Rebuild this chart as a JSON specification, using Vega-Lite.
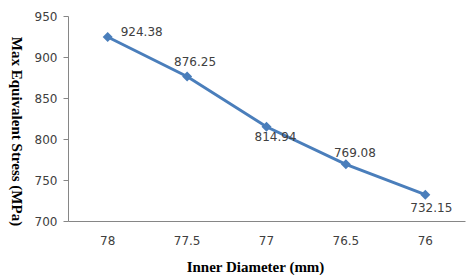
{
  "$schema": "https://vega.github.io/schema/vega-lite/v6.json",
  "width": 397,
  "height": 205,
  "autosize": {"type": "none"},
  "padding": {"left": 68, "top": 16, "right": 1, "bottom": 54},
  "background": "white",
  "config": {"view": {"stroke": null}},
  "data": {"values": [
    {"d": "78", "s": 924.38, "pos": "right"},
    {"d": "77.5", "s": 876.25, "pos": "above"},
    {"d": "77", "s": 814.94, "pos": "below"},
    {"d": "76.5", "s": 769.08, "pos": "above"},
    {"d": "76", "s": 732.15, "pos": "below"}
  ]},
  "encoding": {
    "x": {"field": "d", "type": "ordinal", "sort": null,
      "scale": {"type": "band", "paddingInner": 0, "paddingOuter": 0},
      "axis": {"title": "Inner Diameter (mm)", "labelAngle": 0, "ticks": false,
        "domainColor": "#868686", "labelColor": "#404040", "labelFont": "DejaVu Sans", "labelFontSize": 12, "labelPadding": 14,
        "titleFont": "Liberation Serif", "titleFontWeight": "bold", "titleFontSize": 15, "titleColor": "#000000",
        "titleX": 187, "titleY": 38}},
    "y": {"field": "s", "type": "quantitative",
      "scale": {"domain": [700, 950], "nice": false, "zero": false},
      "axis": {"title": "Max Equivalent Stress (MPa)", "values": [700, 750, 800, 850, 900, 950], "grid": false,
        "domainColor": "#868686", "tickColor": "#868686", "tickSize": 5, "labelPadding": 6,
        "labelColor": "#404040", "labelFont": "DejaVu Sans", "labelFontSize": 12,
        "titleFont": "Liberation Serif", "titleFontWeight": "bold", "titleFontSize": 15, "titleColor": "#000000",
        "titleAngle": 90, "titleX": -52, "titleY": 115, "titleBaseline": "middle"}}
  },
  "layer": [
    {"mark": {"type": "line", "color": "#4a7ebb", "strokeWidth": 3}},
    {"mark": {"type": "point", "shape": "diamond", "filled": true, "color": "#4a7ebb", "size": 100, "opacity": 1}},
    {"transform": [{"filter": "datum.pos == 'right'"}],
      "mark": {"type": "text", "align": "left", "dx": 13, "dy": -5, "font": "DejaVu Sans", "fontSize": 12, "color": "#404040"},
      "encoding": {"text": {"field": "s", "type": "quantitative", "format": ".2f"}}},
    {"transform": [{"filter": "datum.d == '77.5'"}],
      "mark": {"type": "text", "align": "center", "dx": 8, "dy": -14, "font": "DejaVu Sans", "fontSize": 12, "color": "#404040"},
      "encoding": {"text": {"field": "s", "type": "quantitative", "format": ".2f"}}},
    {"transform": [{"filter": "datum.d == '76.5'"}],
      "mark": {"type": "text", "align": "center", "dx": 9, "dy": -11, "font": "DejaVu Sans", "fontSize": 12, "color": "#404040"},
      "encoding": {"text": {"field": "s", "type": "quantitative", "format": ".2f"}}},
    {"transform": [{"filter": "datum.d == '77'"}],
      "mark": {"type": "text", "align": "center", "dx": 9, "dy": 10, "font": "DejaVu Sans", "fontSize": 12, "color": "#404040"},
      "encoding": {"text": {"field": "s", "type": "quantitative", "format": ".2f"}}},
    {"transform": [{"filter": "datum.d == '76'"}],
      "mark": {"type": "text", "align": "center", "dx": 6, "dy": 13, "font": "DejaVu Sans", "fontSize": 12, "color": "#404040"},
      "encoding": {"text": {"field": "s", "type": "quantitative", "format": ".2f"}}}
  ]
}
